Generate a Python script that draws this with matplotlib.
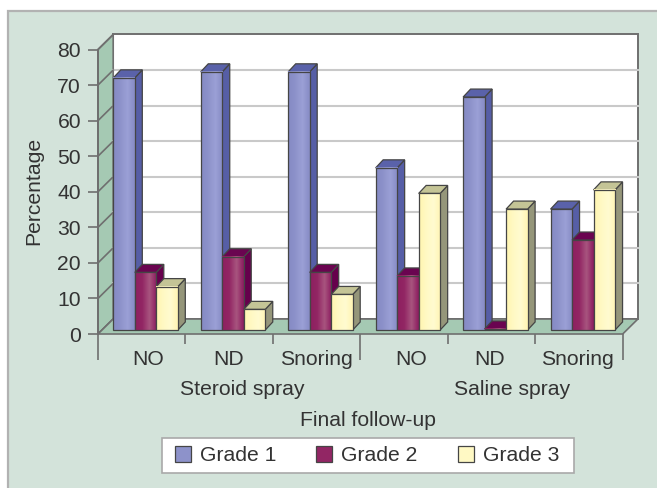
import numpy as np
import matplotlib
matplotlib.use("Agg")
import matplotlib.pyplot as plt
from matplotlib.colors import LinearSegmentedColormap
from matplotlib.patches import Patch, Polygon, Rectangle

plt.rcParams["font.family"] = ["Liberation Sans", "DejaVu Sans"]

# data
categories = ["NO", "ND", "Snoring", "NO", "ND", "Snoring"]
groups = ["Steroid spray", "Saline spray"]
series_names = ["Grade 1", "Grade 2", "Grade 3"]
grade1 = [70.9, 72.6, 72.6, 45.6, 65.5, 34.0]
grade2 = [16.2, 20.6, 16.2, 15.2, 0.3, 25.3]
grade3 = [12.2, 5.8, 10.0, 38.4, 34.0, 39.4]
y_ticks = [0, 10, 20, 30, 40, 50, 60, 70, 80]

# label centres sit a bit off the category centres in the original
label_shift = [0.07, -0.01, 0.0, 0.08, -0.02, -0.02]

W, H = 657, 488
PX_X = 87.45  # pixels per category
PX_Y = 3.556  # pixels per percent

# 3d look, in pixels
wall_dx, wall_dy = 15.2 / PX_X, 15 / PX_Y
bar_dx, bar_dy = 7.5 / PX_X, 8 / PX_Y
bar_w = 21.5 / PX_X
bar_start = 15.3 / PX_X
bar_lift = 4 / PX_Y

front = [
    ["#858ac4", "#8d92ca", "#9ba0d6", "#878cc5"],
    ["#8e1f60", "#922664", "#a8557f", "#8c1c60"],
    ["#fff5b0", "#fff9c4", "#fffbd0", "#fff4b4"],
]
top_col = ["#5a62aa", "#6a0450", "#c4c496"]
side_col = ["#565ea6", "#66004c", "#95967a"]
edge = "#454545"
wall_col = "#a5c9b3"
panel_col = "#d3e3da"
line_col = "#6f6f6f"
text_col = "#333333"
font_size = 15.2

fig = plt.figure(figsize=(W / 100, H / 100), dpi=100, facecolor="white")
fig.add_artist(Rectangle((8 / W, -0.05), 1.05, 1.05 - 11 / H, transform=fig.transFigure,
                         facecolor=panel_col, edgecolor="#b2b2b2", linewidth=1.6, zorder=-1))

ax = fig.add_axes([98 / W, 1 - 334 / H, 524.7 / W, 284.5 / H])
ax.patch.set_visible(False)
for s in ax.spines.values():
    s.set_visible(False)

n = len(categories)
ymax = max(y_ticks)

# back wall, side wall, floor
ax.add_patch(Polygon([(wall_dx, wall_dy), (n + wall_dx, wall_dy), (n + wall_dx, ymax + wall_dy), (wall_dx, ymax + wall_dy)],
                     facecolor="white", edgecolor=line_col, linewidth=1.4, clip_on=False, zorder=1))
ax.add_patch(Polygon([(0, 0), (wall_dx, wall_dy), (wall_dx, ymax + wall_dy), (0, ymax)],
                     facecolor=wall_col, edgecolor=line_col, linewidth=1.2, clip_on=False, zorder=1))
for t in y_ticks[1:-1]:
    ax.plot([wall_dx, n + wall_dx], [t + wall_dy, t + wall_dy], color="#c9c9c9", lw=1.5, zorder=1.5, clip_on=False)
for t in y_ticks:
    ax.plot([0, wall_dx], [t, t + wall_dy], color=line_col, lw=1.2, zorder=1.6, clip_on=False)
ax.add_patch(Polygon([(0, 0), (n, 0), (n + wall_dx, wall_dy), (wall_dx, wall_dy)],
                     facecolor=wall_col, edgecolor=line_col, linewidth=1.2, clip_on=False, zorder=2))

# bars, left to right so each one covers the side of the one before
z = 3
values = [grade1, grade2, grade3]
for i in range(n):
    for j in range(3):
        v = values[j][i]
        x0 = i + bar_start + j * bar_w
        x1 = x0 + bar_w
        y0 = bar_lift
        y1 = bar_lift + v
        ax.add_patch(Polygon([(x1, y0), (x1 + bar_dx, y0 + bar_dy), (x1 + bar_dx, y1 + bar_dy), (x1, y1)],
                             facecolor=side_col[j], edgecolor=edge, linewidth=0.9, clip_on=False, zorder=z))
        ax.add_patch(Polygon([(x0, y1), (x1, y1), (x1 + bar_dx, y1 + bar_dy), (x0 + bar_dx, y1 + bar_dy)],
                             facecolor=top_col[j], edgecolor=edge, linewidth=0.9, clip_on=False, zorder=z))
        cmap = LinearSegmentedColormap.from_list("g", front[j])
        ax.imshow(np.linspace(0, 1, 32).reshape(1, -1), extent=(x0, x1, y0, y1), aspect="auto",
                  cmap=cmap, interpolation="bilinear", clip_on=False, zorder=z + 0.1)
        ax.add_patch(Rectangle((x0, y0), bar_w, v, fill=False, edgecolor=edge, linewidth=0.9,
                               clip_on=False, zorder=z + 0.2))
        z += 1

ax.set_xlim(0, n)
ax.set_ylim(0, ymax)

# axes
ax.set_yticks(y_ticks)
ax.tick_params(axis="y", length=7.2, width=1.2, color=line_col, labelsize=font_size, labelcolor=text_col, pad=5)
ax.set_xticks([0, 3, 6])
ax.set_xticks([1, 2, 4, 5], minor=True)
ax.set_xticklabels([])
ax.tick_params(axis="x", which="major", length=18.5, width=1.2, color=line_col)
ax.tick_params(axis="x", which="minor", length=7.2, width=1.2, color=line_col)
ax.plot([0, 0], [0, ymax], color=line_col, lw=1.4, clip_on=False, zorder=2)

for i, name in enumerate(categories):
    ax.text(i + 0.5 + label_shift[i], -7.1, name, ha="center", va="center", fontsize=font_size, color=text_col)
ax.text(1.645, -15.6, groups[0], ha="center", va="center", fontsize=font_size, color=text_col)
ax.text(4.74, -15.5, groups[1], ha="center", va="center", fontsize=font_size, color=text_col)
ax.text(3.09, -24.2, "Final follow-up", ha="center", va="center", fontsize=font_size, color=text_col)
fig.text(34 / W, 1 - 190.5 / H, "Percentage", rotation=90, ha="center", va="center", fontsize=font_size, color=text_col)

# legend box is drawn apart, the legend's own frame comes out too tall
fig.add_artist(Rectangle((162 / W, 1 - 472.5 / H), 412 / W, 34.5 / H, transform=fig.transFigure,
                         facecolor="white", edgecolor="#a9a9a9", linewidth=1.2, zorder=4))
handles = [Patch(facecolor=front[j][1], edgecolor=edge, linewidth=0.9, label=series_names[j]) for j in range(3)]
leg = fig.legend(handles=handles, ncol=3, loc="center", bbox_to_anchor=(367 / W, 1 - 455.5 / H),
                 fontsize=font_size, frameon=False,
                 handlelength=0.76, handleheight=0.76, handletextpad=0.43, columnspacing=1.9,
                 borderpad=0, borderaxespad=0, labelcolor=text_col)

fig.savefig("out.png", dpi=100)
